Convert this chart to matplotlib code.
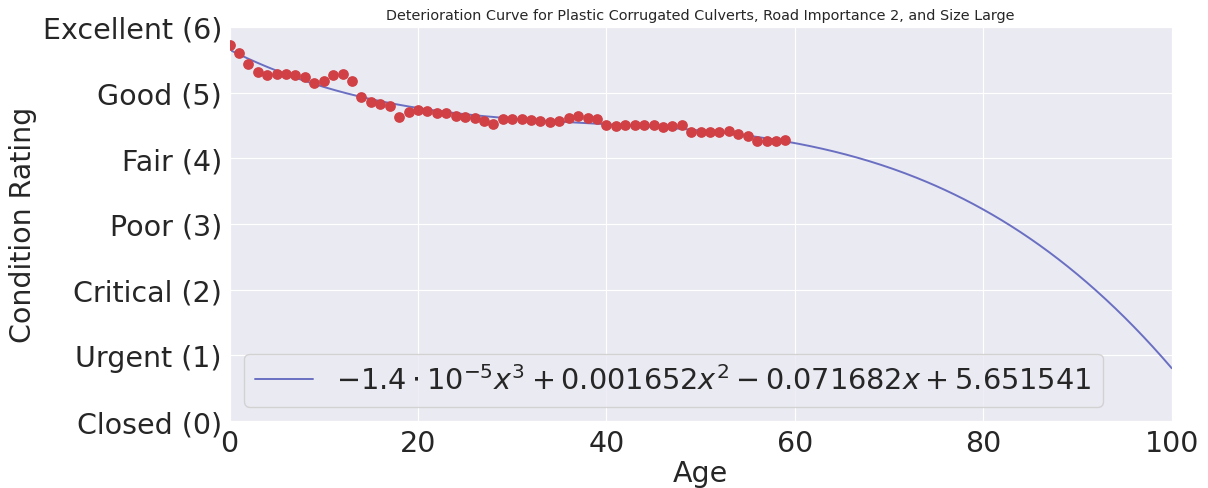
import numpy as np
import matplotlib
matplotlib.use('Agg')
import matplotlib.pyplot as plt
import seaborn as sns

# observed mean condition by age
ages = list(range(60))
ratings = [5.72, 5.60, 5.44, 5.31, 5.27, 5.28, 5.29, 5.26, 5.23, 5.14,
           5.17, 5.27, 5.28, 5.18, 4.93, 4.86, 4.83, 4.80, 4.63, 4.70,
           4.74, 4.72, 4.69, 4.69, 4.64, 4.63, 4.61, 4.56, 4.52, 4.60,
           4.60, 4.59, 4.58, 4.56, 4.55, 4.57, 4.62, 4.64, 4.61, 4.59,
           4.51, 4.49, 4.51, 4.51, 4.50, 4.50, 4.48, 4.49, 4.50, 4.40,
           4.40, 4.40, 4.40, 4.41, 4.37, 4.34, 4.26, 4.26, 4.27, 4.28]

# fitted cubic (highest power first)
coeffs = [-1.42e-5, 0.001652, -0.071682, 5.651541]
fit_label = r'$-1.4 \cdot 10^{-5}x^3 + 0.001652x^2 - 0.071682x + 5.651541$'

y_labels = ['Closed (0)', 'Urgent (1)', 'Critical (2)', 'Poor (3)',
            'Fair (4)', 'Good (5)', 'Excellent (6)']
x_ticks = [0, 20, 40, 60, 80, 100]

sns.set_style('darkgrid')
plt.rcParams['font.family'] = ['DejaVu Sans']

fig = plt.figure(figsize=(12.08, 4.89), dpi=100)
ax = fig.add_axes([0.19, 0.137, 0.78, 0.806])

xs = np.linspace(0, 100, 400)
ax.plot(xs, np.polyval(coeffs, xs), color='#6a6fc2', lw=1.4, label=fit_label)
ax.scatter(ages, ratings, color='#d04045', s=45, zorder=3)

ax.set_xlim(0, 100)
ax.set_ylim(0, 6)
ax.set_xticks(x_ticks)
ax.set_yticks(range(7))
ax.set_yticklabels(y_labels)
ax.tick_params(axis='both', labelsize=20.5, pad=2)
ax.set_xlabel('Age', fontsize=20.5, labelpad=2)
ax.set_ylabel('Condition Rating', fontsize=20.5)
ax.set_title('Deterioration Curve for Plastic Corrugated Culverts, Road Importance 2, and Size Large',
             fontsize=10.4)
ax.legend(loc='lower left', fontsize=20.7, handlelength=2.0)

plt.savefig('out.png', dpi=100)
plt.close()
